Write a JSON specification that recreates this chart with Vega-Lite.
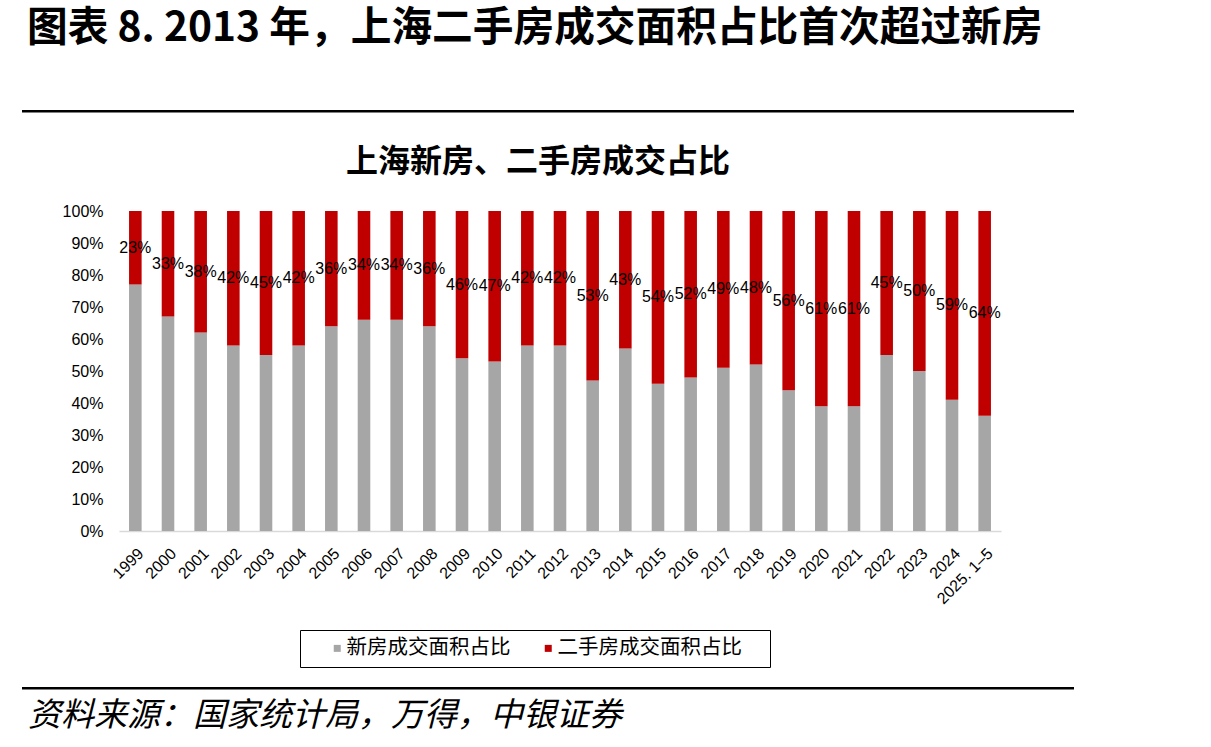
{
  "$schema": "https://vega.github.io/schema/vega-lite/v6.json",
  "background": "white",
  "padding": {"left": 22, "top": 8, "right": 0, "bottom": 0},
  "title": {"text": "图表 8. 2013 年，上海二手房成交面积占比首次超过新房", "anchor": "start", "fontSize": 40.7, "font": "Noto Sans CJK SC", "fontWeight": "bold", "color": "#000000", "dx": 5, "offset": 60},
  "spacing": 80,
  "vconcat": [
    {
      "spacing": 33,
      "vconcat": [
        {
          "width": 1050, "height": 0.5,
          "view": {"stroke": "#000000", "strokeWidth": 2},
          "data": {"values": []},
          "mark": "point",
          "encoding": {}
        },
        {
          "spacing": 38,
          "hconcat": [
            {
              "width": 1, "height": 1,
              "data": {"values": []},
              "mark": "point",
              "encoding": {}
            },
            {
              "width": 882, "height": 320,
              "title": {"text": "上海新房、二手房成交占比", "fontSize": 32, "font": "Noto Sans CJK SC", "fontWeight": "bold", "anchor": "middle", "dx": -22, "offset": 24, "color": "#000000"},
              "data": {"values": [
                {"year": "1999", "type": "新房成交面积占比", "value": 0.77}, {"year": "1999", "type": "二手房成交面积占比", "value": 0.23},
                {"year": "2000", "type": "新房成交面积占比", "value": 0.67}, {"year": "2000", "type": "二手房成交面积占比", "value": 0.33},
                {"year": "2001", "type": "新房成交面积占比", "value": 0.62}, {"year": "2001", "type": "二手房成交面积占比", "value": 0.38},
                {"year": "2002", "type": "新房成交面积占比", "value": 0.58}, {"year": "2002", "type": "二手房成交面积占比", "value": 0.42},
                {"year": "2003", "type": "新房成交面积占比", "value": 0.55}, {"year": "2003", "type": "二手房成交面积占比", "value": 0.45},
                {"year": "2004", "type": "新房成交面积占比", "value": 0.58}, {"year": "2004", "type": "二手房成交面积占比", "value": 0.42},
                {"year": "2005", "type": "新房成交面积占比", "value": 0.64}, {"year": "2005", "type": "二手房成交面积占比", "value": 0.36},
                {"year": "2006", "type": "新房成交面积占比", "value": 0.66}, {"year": "2006", "type": "二手房成交面积占比", "value": 0.34},
                {"year": "2007", "type": "新房成交面积占比", "value": 0.66}, {"year": "2007", "type": "二手房成交面积占比", "value": 0.34},
                {"year": "2008", "type": "新房成交面积占比", "value": 0.64}, {"year": "2008", "type": "二手房成交面积占比", "value": 0.36},
                {"year": "2009", "type": "新房成交面积占比", "value": 0.54}, {"year": "2009", "type": "二手房成交面积占比", "value": 0.46},
                {"year": "2010", "type": "新房成交面积占比", "value": 0.53}, {"year": "2010", "type": "二手房成交面积占比", "value": 0.47},
                {"year": "2011", "type": "新房成交面积占比", "value": 0.58}, {"year": "2011", "type": "二手房成交面积占比", "value": 0.42},
                {"year": "2012", "type": "新房成交面积占比", "value": 0.58}, {"year": "2012", "type": "二手房成交面积占比", "value": 0.42},
                {"year": "2013", "type": "新房成交面积占比", "value": 0.47}, {"year": "2013", "type": "二手房成交面积占比", "value": 0.53},
                {"year": "2014", "type": "新房成交面积占比", "value": 0.57}, {"year": "2014", "type": "二手房成交面积占比", "value": 0.43},
                {"year": "2015", "type": "新房成交面积占比", "value": 0.46}, {"year": "2015", "type": "二手房成交面积占比", "value": 0.54},
                {"year": "2016", "type": "新房成交面积占比", "value": 0.48}, {"year": "2016", "type": "二手房成交面积占比", "value": 0.52},
                {"year": "2017", "type": "新房成交面积占比", "value": 0.51}, {"year": "2017", "type": "二手房成交面积占比", "value": 0.49},
                {"year": "2018", "type": "新房成交面积占比", "value": 0.52}, {"year": "2018", "type": "二手房成交面积占比", "value": 0.48},
                {"year": "2019", "type": "新房成交面积占比", "value": 0.44}, {"year": "2019", "type": "二手房成交面积占比", "value": 0.56},
                {"year": "2020", "type": "新房成交面积占比", "value": 0.39}, {"year": "2020", "type": "二手房成交面积占比", "value": 0.61},
                {"year": "2021", "type": "新房成交面积占比", "value": 0.39}, {"year": "2021", "type": "二手房成交面积占比", "value": 0.61},
                {"year": "2022", "type": "新房成交面积占比", "value": 0.55}, {"year": "2022", "type": "二手房成交面积占比", "value": 0.45},
                {"year": "2023", "type": "新房成交面积占比", "value": 0.50}, {"year": "2023", "type": "二手房成交面积占比", "value": 0.50},
                {"year": "2024", "type": "新房成交面积占比", "value": 0.41}, {"year": "2024", "type": "二手房成交面积占比", "value": 0.59},
                {"year": "2025. 1–5", "type": "新房成交面积占比", "value": 0.36}, {"year": "2025. 1–5", "type": "二手房成交面积占比", "value": 0.64}
              ]},
              "layer": [
                {
                  "mark": {"type": "bar"},
                  "encoding": {
                    "x": {"field": "year", "type": "nominal", "sort": null,
                          "scale": {"paddingInner": 0.615, "paddingOuter": 0.3075},
                          "axis": {"title": null, "labelAngle": -45, "labelFontSize": 16, "labelFont": "Liberation Sans", "labelColor": "#000000", "ticks": false, "domainColor": "#D9D9D9", "domainWidth": 1.5, "labelPadding": 14, "labelDx": -3, "labelOverlap": false, "labelBound": false}},
                    "y": {"field": "value", "type": "quantitative", "stack": "zero",
                          "scale": {"domain": [0, 1], "nice": false},
                          "axis": {"title": null, "values": [0, 0.1, 0.2, 0.3, 0.4, 0.5, 0.6, 0.7, 0.8, 0.9, 1], "format": ".0%", "domain": false, "ticks": false, "grid": false, "labelFontSize": 16, "labelFont": "Liberation Sans", "labelColor": "#000000", "labelPadding": 16, "labelOverlap": false}},
                    "color": {"field": "type", "type": "nominal",
                              "scale": {"domain": ["新房成交面积占比", "二手房成交面积占比"], "range": ["#A6A6A6", "#C00000"]},
                              "legend": {"orient": "none", "legendX": 277, "legendY": 519, "direction": "horizontal", "title": " ", "titleOrient": "right", "titlePadding": 20, "titleFontSize": 16, "strokeColor": "#000000", "padding": 8, "symbolType": "square", "symbolSize": 49, "symbolStrokeWidth": 0, "symbolOffset": 19, "labelFontSize": 20.5, "labelFont": "Noto Sans CJK SC", "labelColor": "#000000", "columnPadding": 8, "labelOffset": -1, "labelLimit": 400}},
                    "order": {"field": "type", "sort": "descending"}
                  }
                },
                {
                  "transform": [{"filter": "datum.type == '二手房成交面积占比'"}],
                  "mark": {"type": "text", "font": "Liberation Sans", "fontSize": 16, "baseline": "middle", "align": "center", "color": "#000000"},
                  "encoding": {
                    "x": {"field": "year", "type": "nominal", "sort": null},
                    "y": {"datum": 1, "type": "quantitative", "axis": {"title": null, "values": [0, 0.1, 0.2, 0.3, 0.4, 0.5, 0.6, 0.7, 0.8, 0.9, 1], "format": ".0%", "domain": false, "ticks": false, "grid": false, "labelFontSize": 16, "labelFont": "Liberation Sans", "labelColor": "#000000", "labelPadding": 16, "labelOverlap": false}},
                    "yOffset": {"field": "value", "type": "quantitative", "scale": {"domain": [0, 1], "range": [0, 160]}},
                    "text": {"field": "value", "type": "quantitative", "format": ".0%"}
                  }
                }
              ]
            }
          ]
        }
      ]
    },
    {
      "width": 1050, "height": 0.5,
      "view": {"stroke": "#000000", "strokeWidth": 2},
      "title": {"text": "资料来源：国家统计局，万得，中银证券", "orient": "bottom", "anchor": "start", "fontSize": 33, "font": "Noto Sans CJK SC", "fontWeight": "normal", "fontStyle": "italic", "color": "#000000", "dx": 5, "offset": 11},
      "data": {"values": []},
      "mark": "point",
      "encoding": {}
    }
  ],
  "config": {
    "view": {"stroke": null},
    "font": "Noto Sans CJK SC",
    "axisY": {"labelOverlap": false, "tickCount": 11}
  }
}
